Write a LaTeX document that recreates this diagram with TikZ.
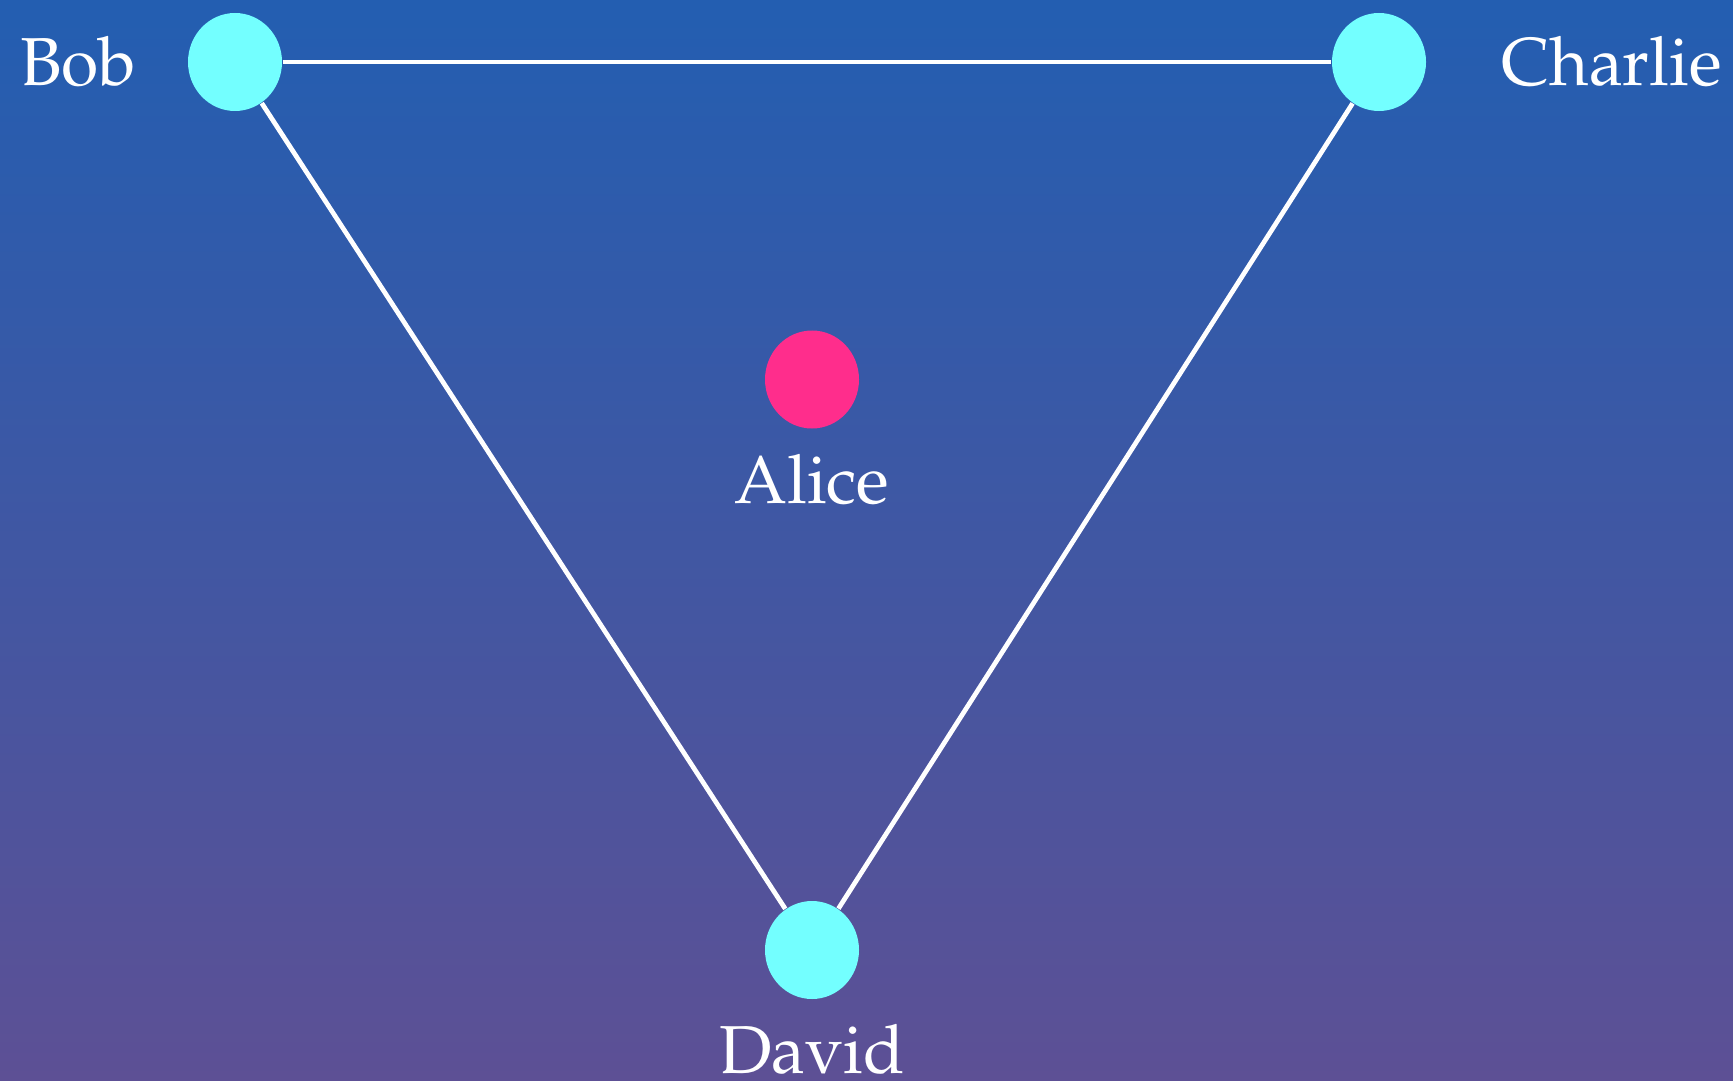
\documentclass[tikz,border=0pt]{standalone}
\usepackage[T1]{fontenc}
\usepackage{mathpazo}
\usetikzlibrary{shapes.geometric}
\definecolor{bgtop}{RGB}{35,94,177}
\definecolor{bgbot}{RGB}{93,80,149}
\definecolor{peercyan}{RGB}{115,255,255}
\definecolor{selfpink}{RGB}{255,45,140}
\begin{document}
\begin{tikzpicture}[
    person/.style={ellipse, minimum width=0.94cm, minimum height=0.98cm, inner sep=0pt, fill=peercyan},
    namelbl/.style={text=white, inner sep=0pt, font=\fontsize{19.3}{23}\selectfont},
    link/.style={draw=white, line width=1.35pt}
]

% Hintergrund
\useasboundingbox (0,0) rectangle (17.33,-10.80);
\shade[top color=bgtop, bottom color=bgbot] (0,0) rectangle (17.33,-10.80);

% Personen
\node[person, label={[namelbl, label distance=0.505cm]left:Bob}] (bob) at (2.35, -0.62) {};
\node[person, label={[namelbl, label distance=0.74cm]right:Charlie}] (charlie) at (13.79, -0.62) {};
\node[person, fill=selfpink, label={[namelbl, label distance=0.245cm]below:Alice}] (alice) at (8.12, -3.795) {};
\node[person, label={[namelbl, label distance=0.24cm]below:David}] (david) at (8.12, -9.50) {};

% Verbindungen
\draw[link] (bob) -- (charlie);
\draw[link] (bob) -- (david);
\draw[link] (charlie) -- (david);

\end{tikzpicture}
\end{document}
